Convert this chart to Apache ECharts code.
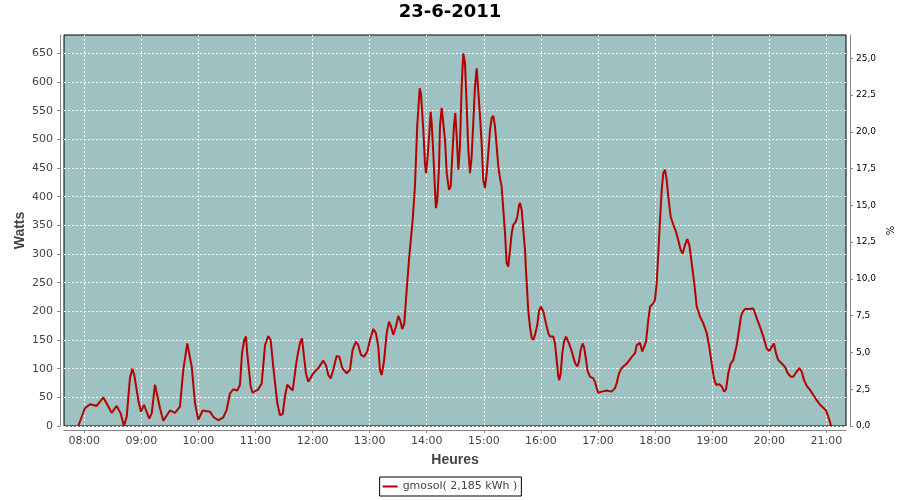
<!DOCTYPE html>
<html>
<head>
<meta charset="utf-8">
<script src="https://cdn.jsdelivr.net/npm/echarts@6/dist/echarts.min.js"></script>
<style>
html,body{margin:0;padding:0;background:#fff;}
#chart{width:900px;height:500px;}
</style>
</head>
<body>
<div id="chart"></div>
<script>
// ---- data (time in minutes since midnight, power in watts) ----
const chartTitle = '23-6-2011';
const seriesName = 'gmosol( 2,185 kWh )';
const minuteOfDay = [
473.7,480.7,486.0,493.0,500.0,508.8,514.1,518.3,521.7,524.6,528.0,530.5,532.6,536.8,539.6,542.8,544.9,548.3,550.9,554.3,
556.1,559.6,563.0,570.1,575.3,580.6,584.1,588.3,589.7,592.9,596.4,599.8,604.5,612.1,615.6,620.9,626.1,629.7,633.2,636.6,
640.8,643.7,645.8,648.2,650.0,651.3,654.9,657.0,662.9,666.5,670.0,673.4,675.9,678.7,682.9,685.7,688.6,691.0,693.4,695.5,
699.1,703.3,706.7,708.8,710.2,713.0,715.5,720.7,726.0,731.2,734.1,736.5,739.0,741.7,745.3,748.1,751.2,755.8,759.3,762.1,
765.6,768.0,770.9,774.0,777.5,780.3,783.8,786.6,789.1,790.8,792.6,795.0,797.9,800.3,802.4,804.8,807.7,810.1,811.9,814.3,
816.4,818.9,821.6,825.2,827.6,830.0,831.8,832.6,833.9,835.0,836.4,838.1,839.2,840.6,842.7,844.1,845.2,846.9,849.0,849.7,
851.1,852.9,853.9,855.7,857.4,859.2,861.0,863.4,865.2,866.8,868.6,870.0,871.5,873.2,874.9,876.7,878.4,880.2,882.0,883.7,
885.5,887.2,888.9,890.7,892.5,894.2,896.0,897.7,899.4,901.2,903.0,904.7,906.5,908.2,909.9,911.7,913.5,915.2,917.0,918.7,
920.5,922.3,924.0,925.7,927.5,929.3,931.0,933.5,935.2,937.0,938.0,939.8,941.5,943.3,944.3,945.7,946.7,948.5,950.3,952.0,
953.8,956.2,958.0,960.1,962.5,965.3,967.8,969.5,973.0,974.8,976.6,978.3,979.3,980.8,982.5,984.3,986.4,988.8,991.3,994.0,
996.1,998.2,1000.0,1001.8,1003.9,1005.6,1007.4,1009.2,1011.6,1015.1,1016.8,1018.6,1020.3,1023.9,1029.2,1034.4,1037.9,1039.7,1042.1,1044.9,
1050.2,1055.4,1058.9,1060.7,1064.1,1066.6,1068.7,1070.5,1072.9,1074.7,1078.1,1079.9,1081.7,1083.4,1085.2,1087.0,1088.6,1090.4,1092.2,1093.9,
1096.4,1099.2,1102.0,1104.4,1106.9,1109.0,1111.5,1113.9,1116.0,1118.5,1121.2,1123.8,1127.2,1130.7,1134.3,1137.0,1139.5,1141.9,1144.1,1147.5,
1150.1,1152.5,1154.6,1157.0,1159.5,1162.2,1164.0,1165.8,1168.2,1170.3,1172.1,1174.5,1178.0,1183.3,1185.0,1187.5,1190.3,1193.8,1197.3,1200.1,
1202.6,1205.0,1207.1,1209.5,1213.1,1216.6,1219.4,1222.6,1225.3,1228.9,1231.6,1234.1,1236.6,1239.4,1242.9,1246.3,1249.9,1253.4,1256.8,1259.7,
1262.1,1263.9,1264.9
];
const watts = [
0,31,38,35,50,23,35,22,0,16,83,100,89,45,25,37,34,13,22,72,
69,31,9,27,23,34,98,144,144,104,40,11,27,25,16,10,15,28,57,64,
62,72,127,150,156,127,69,58,64,74,141,157,150,103,40,19,21,52,72,72,
62,115,144,153,133,92,77,92,101,114,106,89,83,98,122,121,101,92,98,133,
147,141,124,121,130,150,169,162,138,98,89,112,162,182,174,159,174,192,185,169,
179,237,295,359,418,523,569,589,580,577,516,458,441,464,510,548,528,476,400,380,
394,453,523,555,557,499,441,412,418,470,523,546,505,447,488,592,650,633,557,482,
441,470,528,592,624,621,540,493,429,415,441,476,516,537,541,523,488,453,432,418,
377,336,284,278,307,336,351,356,365,385,389,377,342,307,272,231,202,173,154,150,
159,176,201,208,200,179,162,156,156,144,115,86,80,92,127,147,156,147,136,121,
109,104,112,133,144,136,116,95,86,83,77,66,58,60,62,60,66,75,92,101,
109,120,127,141,145,130,130,147,185,208,214,220,249,301,359,412,441,447,430,400,
365,351,339,324,307,301,316,326,316,284,249,208,191,179,162,138,109,83,72,73,
69,60,64,92,109,115,116,141,167,191,199,204,204,205,202,185,173,156,135,131,
138,144,127,115,109,103,92,86,86,95,101,95,80,70,63,54,45,37,32,27,
16,7,0
];
const hourLabels = ['08:00','09:00','10:00','11:00','12:00','13:00','14:00','15:00','16:00','17:00','18:00','19:00','20:00','21:00'];
const wattTicks = [0,50,100,150,200,250,300,350,400,450,500,550,600,650];
const pctTicks = [0,2.5,5,7.5,10,12.5,15,17.5,20,22.5,25];

// axis ranges
const timeMin = 458.7, timeMax = 1280.7;
const wattMax = 682;
const pctMax = 26.58;

// ---- chart ----
const hourTicks = hourLabels.map(s => Number(s.slice(0,2)) * 60 + Number(s.slice(3)));
const points = minuteOfDay.map((t, i) => [t, watts[i]]);

const gray = '#888888';
const labelFont = 'DejaVu Sans';
const dash = {color: '#ffffff', width: 1, type: [2, 2]};

const chart = echarts.init(document.getElementById('chart'), null, {renderer: 'canvas'});
chart.setOption({
  animation: false,
  backgroundColor: '#ffffff',
  title: {
    text: chartTitle, left: 'center', top: 3, padding: 0,
    textStyle: {fontFamily: labelFont, fontWeight: 'bold', fontSize: 18, color: '#000'}
  },
  legend: {
    data: [seriesName], left: 'center', top: 477,
    padding: [4, 4, 4, 3], borderColor: '#000', borderWidth: 1,
    icon: 'rect', itemWidth: 15, itemHeight: 2,
    textStyle: {fontFamily: labelFont, fontSize: 11, color: '#444'}
  },
  grid: {
    left: 64, right: 54, top: 35, bottom: 74, containLabel: false, outerBoundsMode: 'none',
    show: true, backgroundColor: '#9EC2C1', borderColor: '#000', borderWidth: 1
  },
  xAxis: {
    type: 'value', min: timeMin, max: timeMax, offset: 4,
    name: 'Heures', nameLocation: 'middle', nameGap: 23, nameMoveOverlap: false,
    nameTextStyle: {fontFamily: 'Liberation Sans', fontWeight: 'bold', fontSize: 14, color: '#444'},
    axisLine: {show: true, onZero: false, lineStyle: {color: gray}},
    axisTick: {show: true, length: 3, customValues: hourTicks, lineStyle: {color: gray}},
    axisLabel: {
      customValues: hourTicks, margin: 6,
      fontFamily: labelFont, fontSize: 11, color: '#444',
      formatter: v => hourLabels[hourTicks.indexOf(v)] || ''
    },
    splitLine: {show: true, lineStyle: dash}
  },
  yAxis: [{
    type: 'value', min: 0, max: wattMax, offset: 4, position: 'left',
    name: 'Watts', nameLocation: 'middle', nameGap: 33, nameMoveOverlap: false,
    nameTextStyle: {fontFamily: 'Liberation Sans', fontWeight: 'bold', fontSize: 14, color: '#444'},
    axisLine: {show: true, lineStyle: {color: gray}},
    axisTick: {show: true, length: 3, customValues: wattTicks, lineStyle: {color: gray}},
    axisLabel: {customValues: wattTicks, margin: 7, fontFamily: labelFont, fontSize: 11, color: '#444'},
    splitLine: {show: true, lineStyle: dash}
  }, {
    type: 'value', min: 0, max: pctMax, offset: 4, position: 'right',
    name: '%', nameLocation: 'middle', nameGap: 34, nameRotate: -90, nameMoveOverlap: false,
    nameTextStyle: {fontFamily: labelFont, fontSize: 10, color: '#000'},
    axisLine: {show: true, lineStyle: {color: gray}},
    axisTick: {show: true, length: 3, customValues: pctTicks, lineStyle: {color: gray}},
    axisLabel: {
      customValues: pctTicks, margin: 6, fontFamily: labelFont, fontSize: 9, color: '#000',
      formatter: v => v.toFixed(1).replace('.', ',')
    },
    splitLine: {show: false}
  }],
  series: [{
    name: seriesName, type: 'line', data: points,
    xAxisIndex: 0, yAxisIndex: 0,
    showSymbol: false, symbol: 'none',
    lineStyle: {color: '#B50000', width: 2},
    itemStyle: {color: '#B50000'}
  }]
});
</script>
</body>
</html>
